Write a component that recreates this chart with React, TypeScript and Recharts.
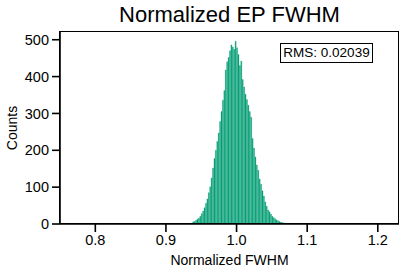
import React from 'react';
import { BarChart, Bar, XAxis, YAxis } from 'recharts';

// histogram bin centres (bin width 0.002) and counts
const BIN_CENTERS = [
  0.937, 0.939, 0.941, 0.943, 0.945, 0.947, 0.949, 0.951, 0.953, 0.955,
  0.957, 0.959, 0.961, 0.963, 0.965, 0.967, 0.969, 0.971, 0.973, 0.975,
  0.977, 0.979, 0.981, 0.983, 0.985, 0.987, 0.989, 0.991, 0.993, 0.995,
  0.997, 0.999, 1.001, 1.003, 1.005, 1.007, 1.009, 1.011, 1.013, 1.015,
  1.017, 1.019, 1.021, 1.023, 1.025, 1.027, 1.029, 1.031, 1.033, 1.035,
  1.037, 1.039, 1.041, 1.043, 1.045, 1.047, 1.049, 1.051, 1.053, 1.055,
  1.057, 1.059, 1.061, 1.063, 1.065, 1.067, 1.069, 1.071, 1.073, 1.075,
];
const COUNTS = [
  2, 6, 7, 10, 13, 16, 21, 28, 35, 44,
  56, 68, 85, 101, 125, 152, 178, 200, 224, 247,
  278, 305, 336, 362, 418, 440, 452, 470, 486, 480,
  474, 496, 478, 460, 430, 442, 392, 372, 352, 338,
  322, 305, 290, 232, 206, 182, 160, 146, 122, 108,
  90, 76, 60, 48, 38, 33, 27, 21, 17, 14,
  11, 9, 7, 5, 4, 3, 2, 2, 1, 1,
];
const X_TICKS = [0.8, 0.9, 1.0, 1.1, 1.2];
const Y_TICKS = [0, 100, 200, 300, 400, 500];
const RMS = 0.02039;

const data = BIN_CENTERS.map((x, i) => ({ x, count: COUNTS[i] }));

const FONT = '"Liberation Sans", Arial, Helvetica, sans-serif';
const GREEN = '#009E73';
const tickStyle = { fill: '#000', fontSize: 14.5, fontFamily: FONT };
const axisLine = { stroke: '#000', strokeWidth: 1.6 };
const tickLine = { stroke: '#000', strokeWidth: 1.6 };

export default function App() {
  return (
    <div style={{ position: 'absolute', left: 0, top: 0, width: 407, height: 274, background: '#fff', fontFamily: FONT }}>
      <div style={{ position: 'absolute', left: 60, width: 339, top: 2, textAlign: 'center', fontSize: 22, color: '#000' }}>
        Normalized EP FWHM
      </div>
      <BarChart
        width={407}
        height={274}
        data={data}
        margin={{ top: 32, right: 8, bottom: 0, left: 0 }}
        barCategoryGap={0}
        barGap={0}
      >
        <XAxis
          dataKey="x"
          type="number"
          domain={[0.75, 1.23]}
          ticks={X_TICKS}
          tickFormatter={(v: number) => v.toFixed(1)}
          allowDataOverflow
          height={50}
          tick={tickStyle}
          tickSize={8}
          tickMargin={3}
          axisLine={axisLine}
          tickLine={tickLine}
          label={{ value: 'Normalized FWHM', position: 'insideBottom', offset: 9, fill: '#000', fontSize: 14, fontFamily: FONT }}
        />
        <YAxis
          type="number"
          domain={[0, 521]}
          ticks={Y_TICKS}
          allowDataOverflow
          width={60}
          tick={tickStyle}
          tickSize={8}
          tickMargin={3}
          axisLine={axisLine}
          tickLine={tickLine}
          label={{ value: 'Counts', angle: -90, position: 'insideLeft', offset: 12, fill: '#000', fontSize: 14, fontFamily: FONT, style: { textAnchor: 'middle' } }}
        />
        <Bar dataKey="count" fill={GREEN} stroke={GREEN} strokeWidth={0.3} isAnimationActive={false} />
      </BarChart>
      {/* plot frame */}
      <div style={{ position: 'absolute', left: 59.2, top: 31.2, width: 339.6, height: 192.8, border: '1.6px solid #000', boxSizing: 'border-box', pointerEvents: 'none' }} />
      <div
        style={{
          position: 'absolute', left: 280, top: 43, width: 93, height: 20,
          border: '1.6px solid #000', boxSizing: 'border-box', fontSize: 13.5, lineHeight: '17px',
          textAlign: 'center', color: '#000',
        }}
      >
        RMS: {RMS.toFixed(5)}
      </div>
    </div>
  );
}
